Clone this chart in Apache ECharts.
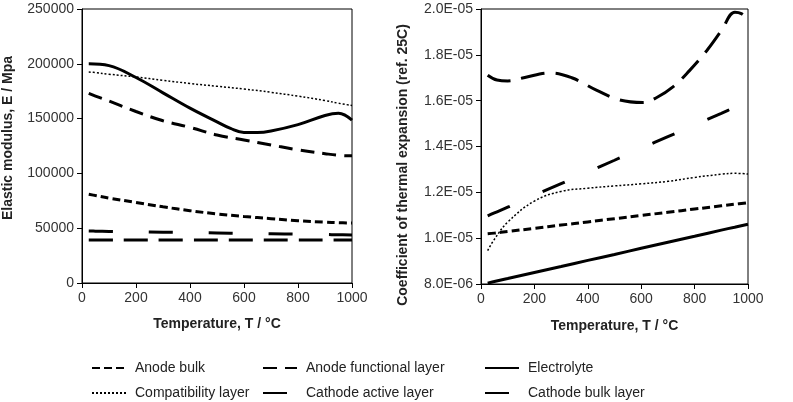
<!DOCTYPE html>
<html>
<head>
<meta charset="utf-8">
<script src="https://cdn.jsdelivr.net/npm/echarts@6/dist/echarts.min.js"></script>
<style>
  html, body { margin: 0; padding: 0; background: #fff; }
  #chart { width: 793px; height: 402px; }
</style>
</head>
<body>
<div id="chart"></div>
<script>
// temperatures (°C) shared by most curves
const temps = [25, 50, 100, 200, 300, 400, 500, 600, 700, 800, 900, 950, 1000];
// the two wavy curves are read at their own temperatures
const tempsElecE = [25, 100, 200, 300, 400, 500, 550, 600, 650, 700, 800, 900, 950, 1000];
const tempsCathBulkC = [25, 60, 100, 160, 260, 340, 434, 520, 607, 660, 719, 780, 846, 900, 951, 975, 1000];

// elastic modulus, MPa
const eAnodeBulk = [81000, 79800, 77500, 73500, 69500, 66000, 63000, 60700, 58700, 56800, 55500, 55000, 54700];
const eAnodeFunctional = [173000, 170500, 166000, 156500, 148000, 142000, 135000, 130500, 126000, 121500, 118000, 116500, 116000];
const eElectrolyte = [200000, 198300, 187500, 173500, 159500, 147000, 141000, 137300, 137300, 138700, 144500, 152800, 154800, 148500];
const eCompat = [192500, 192000, 190500, 188000, 185000, 182000, 179500, 177000, 174000, 170500, 166500, 164000, 162000];
const eCathodeActive = [47400, 47300, 47100, 46800, 46400, 46000, 45700, 45300, 45000, 44600, 44200, 44000, 43800];
const eCathodeBulk = [39200, 39200, 39200, 39200, 39200, 39200, 39200, 39200, 39200, 39200, 39200, 39200, 39200];

// coefficient of thermal expansion (ref. 25C)
const cAnodeBulk = [1.019e-5, 1.022e-5, 1.029e-5, 1.043e-5, 1.057e-5, 1.071e-5, 1.085e-5, 1.099e-5, 1.113e-5, 1.127e-5, 1.141e-5, 1.148e-5, 1.155e-5];
const cElectrolyte = [8.04e-6, 8.11e-6, 8.24e-6, 8.50e-6, 8.76e-6, 9.03e-6, 9.29e-6, 9.56e-6, 9.82e-6, 1.008e-5, 1.035e-5, 1.048e-5, 1.061e-5];
const cCompat = [9.46e-6, 9.95e-6, 1.07e-5, 1.162e-5, 1.204e-5, 1.218e-5, 1.228e-5, 1.237e-5, 1.248e-5, 1.265e-5, 1.279e-5, 1.283e-5, 1.28e-5];
const cCathodeActive = [1.097e-5, 1.110e-5, 1.135e-5, 1.187e-5, 1.238e-5, 1.289e-5, 1.340e-5, 1.392e-5, 1.443e-5, 1.494e-5, 1.545e-5, 1.571e-5, 1.597e-5];
const cCathodeBulk = [1.711e-5, 1.690e-5, 1.686e-5, 1.700e-5, 1.721e-5, 1.700e-5, 1.645e-5, 1.603e-5, 1.592e-5, 1.615e-5, 1.660e-5, 1.730e-5, 1.819e-5, 1.905e-5, 1.986e-5, 1.980e-5, 1.954e-5];

const names = ["Anode bulk", "Anode functional layer", "Electrolyte",
    "Compatibility layer", "Cathode active layer", "Cathode bulk layer"];

const FONT = "Liberation Sans";

const styles = {
    "Anode bulk": { width: 3, type: [8, 4] },
    "Anode functional layer": { width: 3, type: [14, 8] },
    "Electrolyte": { width: 3, type: "solid" },
    "Compatibility layer": { width: 1.5, type: [2, 2] },
    "Cathode active layer": { width: 3, type: [24, 36] },
    "Cathode bulk layer": { width: 3, type: [24, 11] }
};

function pairs(ts, vals) {
    return ts.map((t, i) => [t, vals[i]]);
}

function line(name, ts, vals, idx) {
    return {
        name: name,
        type: "line",
        xAxisIndex: idx,
        yAxisIndex: idx,
        data: pairs(ts, vals),
        smooth: 0.4,
        symbol: "none",
        lineStyle: { color: "#000", width: styles[name].width, type: styles[name].type, cap: "butt" },
        itemStyle: { color: "#000" }
    };
}

function sci(v) {
    const exp = Math.round(Math.log10(Math.abs(v)) - 0.4999);
    const m = v / Math.pow(10, exp);
    const e = Math.abs(exp);
    return m.toFixed(1) + "E" + (exp < 0 ? "-" : "+") + (e < 10 ? "0" + e : e);
}

function plain(v) {
    return String(Math.round(v));
}

const axisLine = { show: true, lineStyle: { color: "#000", width: 1 } };
const axisTick = { show: true, inside: false, length: 5, lineStyle: { color: "#000" } };
const label = { color: "#333", fontSize: 14, fontFamily: FONT };
const nameStyle = { color: "#222", fontSize: 14, fontWeight: "bold", fontFamily: FONT };

const xAxisBase = {
    type: "value", min: 0, max: 1000, interval: 200,
    axisLine: axisLine, axisTick: axisTick,
    axisLabel: Object.assign({ formatter: plain }, label),
    splitLine: { show: false },
    name: "Temperature, T / °C", nameLocation: "middle",
    nameTextStyle: nameStyle
};

// legend laid out in a 3 x 2 table
const legendPos = [[91, 361], [262, 361], [484, 361], [91, 386], [262, 386], [484, 386]];
const legends = names.map((n, i) => ({
    data: [n],
    left: legendPos[i][0],
    top: legendPos[i][1],
    padding: 0,
    itemWidth: 34,
    itemHeight: 14,
    itemStyle: { color: "transparent", borderWidth: 0 },
    textStyle: { color: "#222", fontSize: 14, fontFamily: FONT, padding: [0, 0, 0, 4] }
}));

const chart = echarts.init(document.getElementById("chart"));
const option = {
    animation: false,
    backgroundColor: "#fff",
    textStyle: { fontFamily: FONT },
    legend: legends,
    grid: [
        { left: 82, top: 9, width: 270, height: 274, show: true, borderColor: "#000", borderWidth: 1 },
        { left: 481, top: 9, width: 267, height: 275, show: true, borderColor: "#000", borderWidth: 1 }
    ],
    xAxis: [
        Object.assign({ gridIndex: 0, nameGap: 34 }, xAxisBase),
        Object.assign({ gridIndex: 1, nameGap: 35 }, xAxisBase)
    ],
    yAxis: [
        {
            type: "value", gridIndex: 0, min: 0, max: 250000, interval: 50000,
            axisLine: axisLine, axisTick: axisTick,
            axisLabel: Object.assign({ formatter: plain }, label),
            splitLine: { show: false }
        },
        {
            type: "value", gridIndex: 1, min: 8e-6, max: 2e-5, interval: 2e-6,
            axisLine: axisLine, axisTick: axisTick,
            axisLabel: Object.assign({ formatter: sci }, label),
            splitLine: { show: false }
        }
    ],
    graphic: [
        {
            type: "text", x: 8, y: 138, rotation: Math.PI / 2,
            style: { text: "Elastic modulus, E / Mpa", align: "center", verticalAlign: "middle",
                fill: "#222", font: "bold 14px " + FONT }
        },
        {
            type: "text", x: 403, y: 165, rotation: Math.PI / 2,
            style: { text: "Coefficient of thermal expansion (ref. 25C)", align: "center", verticalAlign: "middle",
                fill: "#222", font: "bold 14px " + FONT }
        }
    ],
    series: [
        line("Anode bulk", temps, eAnodeBulk, 0),
        line("Anode functional layer", temps, eAnodeFunctional, 0),
        line("Electrolyte", tempsElecE, eElectrolyte, 0),
        line("Compatibility layer", temps, eCompat, 0),
        line("Cathode active layer", temps, eCathodeActive, 0),
        line("Cathode bulk layer", temps, eCathodeBulk, 0),
        line("Anode bulk", temps, cAnodeBulk, 1),
        line("Electrolyte", temps, cElectrolyte, 1),
        line("Compatibility layer", temps, cCompat, 1),
        line("Cathode active layer", temps, cCathodeActive, 1),
        line("Cathode bulk layer", tempsCathBulkC, cCathodeBulk, 1)
    ]
};
chart.setOption(option);
</script>
</body>
</html>
